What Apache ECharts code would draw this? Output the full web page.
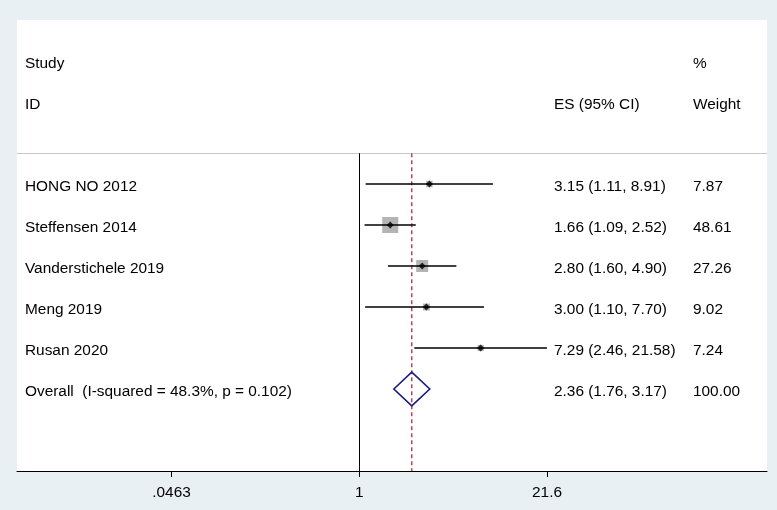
<!DOCTYPE html>
<html>
<head>
<meta charset="utf-8">
<script src="https://cdn.jsdelivr.net/npm/echarts@6/dist/echarts.min.js"></script>
<style>
html,body{margin:0;padding:0;background:#e8f0f3;}
#chart{width:777px;height:510px;}
</style>
</head>
<body>
<div id="chart"></div>
<script>
// ---- data ----
const categories = ['HONG NO 2012', 'Steffensen 2014', 'Vanderstichele 2019', 'Meng 2019', 'Rusan 2020'];
const esValues = [3.15, 1.66, 2.80, 3.00, 7.29];
const ciLow = [1.11, 1.09, 1.60, 1.10, 2.46];
const ciHigh = [8.91, 2.52, 4.90, 7.70, 21.58];
const weights = [7.87, 48.61, 27.26, 9.02, 7.24];
const overallLabel = 'Overall  (I-squared = 48.3%, p = 0.102)';
const overallES = [2.36, 1.76, 3.17]; // estimate, low, high
const overallWeight = 100.00;
const tickValues = [0.0463, 1, 21.6];
const tickLabels = ['.0463', '1', '21.6'];
const headerLeft = ['Study', 'ID'];
const headerES = ['', 'ES (95% CI)'];
const headerWeight = ['%', 'Weight'];

// ---- layout ----
const FONT = '15.4px "Liberation Sans", Arial, sans-serif';
const X_MIN = -5.602, X_MAX = 6.673;
const FIRST_ROW = 3, OVERALL_ROW = 3 + categories.length;
const LINE_TOP = 2.25, ROW_MAX = 10;
const COL_STUDY = 25, COL_ES = 554, COL_W = 693;
const TEXT_DY = 2.5;
const ln = Math.log;

const fmt = v => v.toFixed(2);

// text items
const texts = [];
headerLeft.forEach((t, i) => texts.push({ x: COL_STUDY, row: i, text: t }));
headerES.forEach((t, i) => t && texts.push({ x: COL_ES, row: i, text: t }));
headerWeight.forEach((t, i) => texts.push({ x: COL_W, row: i, text: t }));
categories.forEach((c, i) => {
  const r = FIRST_ROW + i;
  texts.push({ x: COL_STUDY, row: r, text: c });
  texts.push({ x: COL_ES, row: r, text: `${fmt(esValues[i])} (${fmt(ciLow[i])}, ${fmt(ciHigh[i])})` });
  texts.push({ x: COL_W, row: r, text: fmt(weights[i]) });
});
texts.push({ x: COL_STUDY, row: OVERALL_ROW, text: overallLabel });
texts.push({ x: COL_ES, row: OVERALL_ROW, text: `${fmt(overallES[0])} (${fmt(overallES[1])}, ${fmt(overallES[2])})` });
texts.push({ x: COL_W, row: OVERALL_ROW, text: fmt(overallWeight) });

const studyData = categories.map((c, i) => [ln(esValues[i]), FIRST_ROW + i, ln(ciLow[i]), ln(ciHigh[i]), weights[i]]);

const chart = echarts.init(document.getElementById('chart'), null, { renderer: 'canvas' });
chart.setOption({
  backgroundColor: '#e8f0f3',
  animation: false,
  grid: { left: 17, right: 10, top: 20, bottom: 39, show: true, backgroundColor: '#ffffff', borderWidth: 0 },
  xAxis: {
    type: 'value', min: X_MIN, max: X_MAX,
    splitLine: { show: false },
    axisLine: { show: true, onZero: false, lineStyle: { color: '#000', width: 1 } },
    axisTick: { show: true, length: 6, lineStyle: { color: '#000', width: 1 }, customValues: tickValues.map(ln) },
    axisLabel: {
      show: true, margin: 14, color: '#000', fontSize: 15.4, fontFamily: '"Liberation Sans", Arial, sans-serif',
      customValues: tickValues.map(ln),
      formatter: v => {
        let best = 0;
        tickValues.forEach((t, i) => { if (Math.abs(ln(t) - v) < Math.abs(ln(tickValues[best]) - v)) best = i; });
        return tickLabels[best];
      }
    }
  },
  yAxis: { type: 'value', min: -1, max: ROW_MAX, inverse: true, show: false, splitLine: { show: false } },
  series: [
    { // header separator
      type: 'custom', silent: true, clip: false, data: [[0, LINE_TOP]],
      renderItem: (p, api) => {
        const a = api.coord([X_MIN, LINE_TOP]), b = api.coord([X_MAX, LINE_TOP]);
        return { type: 'line', shape: { x1: a[0], y1: Math.round(a[1]) + 0.5, x2: b[0], y2: Math.round(b[1]) + 0.5 }, style: { stroke: '#c8c8c8', lineWidth: 1 } };
      }
    },
    { // null line at 1
      type: 'custom', silent: true, clip: false, data: [[0, LINE_TOP]],
      renderItem: (p, api) => {
        const a = api.coord([0, LINE_TOP]), b = api.coord([0, ROW_MAX]);
        return { type: 'line', shape: { x1: Math.round(a[0]) + 0.5, y1: a[1], x2: Math.round(b[0]) + 0.5, y2: b[1] }, style: { stroke: '#000', lineWidth: 1 } };
      }
    },
    { // overall dashed line
      type: 'custom', silent: true, clip: false, data: [[ln(overallES[0]), LINE_TOP]],
      renderItem: (p, api) => {
        const a = api.coord([api.value(0), LINE_TOP]), b = api.coord([api.value(0), ROW_MAX]);
        return { type: 'line', shape: { x1: a[0], y1: a[1], x2: b[0], y2: b[1] }, style: { stroke: '#bb4560', lineWidth: 1.5, lineDash: [4, 3] } };
      }
    },
    { // weight boxes
      type: 'custom', silent: true, clip: false, data: studyData,
      renderItem: (p, api) => {
        const c = api.coord([api.value(0), api.value(1)]);
        const s = 2.3 * Math.sqrt(api.value(4));
        return { type: 'rect', shape: { x: c[0] - s / 2, y: c[1] - s / 2, width: s, height: s }, style: { fill: '#b4b4b4' } };
      }
    },
    { // CI lines
      type: 'custom', silent: true, clip: false, data: studyData,
      renderItem: (p, api) => {
        const a = api.coord([api.value(2), api.value(1)]), b = api.coord([api.value(3), api.value(1)]);
        return { type: 'line', shape: { x1: a[0], y1: a[1], x2: b[0], y2: b[1] }, style: { stroke: '#000', lineWidth: 1.7 } };
      }
    },
    { // point estimates
      type: 'scatter', silent: true, symbol: 'diamond', symbolSize: 7,
      itemStyle: { color: '#000' }, data: studyData.map(d => [d[0], d[1]])
    },
    { // overall diamond
      type: 'custom', silent: true, clip: false,
      data: [[ln(overallES[0]), OVERALL_ROW, ln(overallES[1]), ln(overallES[2])]],
      renderItem: (p, api) => {
        const r = api.value(1);
        const l = api.coord([api.value(2), r]), rr = api.coord([api.value(3), r]);
        const t = api.coord([api.value(0), r - 0.41]), btm = api.coord([api.value(0), r + 0.41]);
        return { type: 'polygon', shape: { points: [l, t, rr, btm] }, style: { fill: 'none', stroke: '#1c1c80', lineWidth: 1.6 } };
      }
    },
    { // texts
      type: 'custom', silent: true, clip: false,
      data: texts.map((t, i) => [0, t.row, i]),
      renderItem: (p, api) => {
        const t = texts[api.value(2)];
        const c = api.coord([0, api.value(1)]);
        return { type: 'text', style: { x: t.x, y: c[1] + TEXT_DY, text: t.text, fill: '#000', font: FONT, align: 'left', verticalAlign: 'middle' } };
      }
    }
  ]
});
</script>
</body>
</html>
